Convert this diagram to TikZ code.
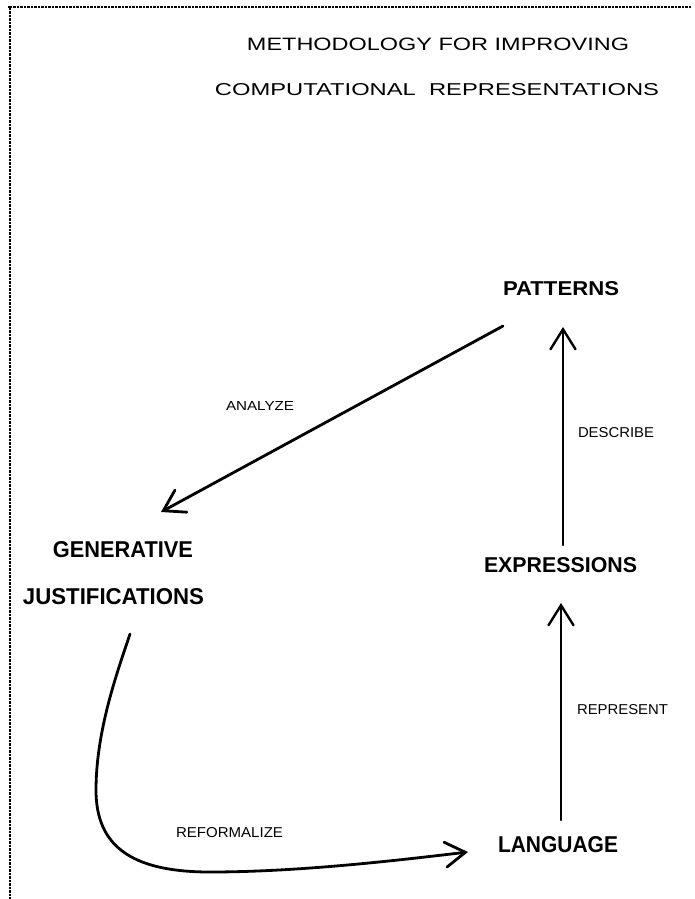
\documentclass[tikz,border=0pt]{standalone}
\usepackage{fontspec}
\setmainfont{Liberation Sans}
\usetikzlibrary{arrows.meta}
\newcommand{\fittext}[3]{\resizebox{#1}{#2}{#3}}
\begin{document}
\begin{tikzpicture}[x=1pt,y=-1pt,
  lbl/.style={inner sep=0pt, anchor=center},
  conn/.style={line width=2.8pt, line cap=round,
    -{Straight Barb[length=20pt,width=25pt,line cap=round]}},
  vconn/.style={conn, line width=2.4pt},
  frameline/.style={line width=1.4pt, dash pattern=on 2.5pt off 1pt}]
\fill[white] (0,0) rectangle (695,899);
\useasboundingbox (0,0) rectangle (695,899);
% frame
\coordinate (fl) at (8,7);
\coordinate (fr) at (691,7);
\coordinate (fb) at (10,899);
\draw[frameline] (fr) -- (fl) -- (10,7) -- (fb);
% title
\node[lbl] (t1) at (438,44.5) {\fittext{382pt}{12.5pt}{METHODOLOGY FOR IMPROVING}};
\node[lbl] (t2) at (437,89.5) {\fittext{444pt}{12pt}{COMPUTATIONAL\ \ REPRESENTATIONS}};
% main nodes
\node[lbl] (pat) at (561,289) {\fittext{116pt}{14pt}{\bfseries PATTERNS}};
\node[lbl] (gen) at (123,550) {\fittext{140pt}{16pt}{\bfseries GENERATIVE}};
\node[lbl] (jus) at (113.5,597) {\fittext{181pt}{16pt}{\bfseries JUSTIFICATIONS}};
\node[lbl] (exp) at (560.5,565.5) {\fittext{153pt}{15pt}{\bfseries EXPRESSIONS}};
\node[lbl] (lan) at (558,845) {\fittext{120pt}{16pt}{\bfseries LANGUAGE}};
% edge labels
\node[lbl] (lana) at (260,406) {\fittext{68pt}{9pt}{ANALYZE}};
\node[lbl] (ldes) at (616,433) {\fittext{76pt}{10pt}{DESCRIBE}};
\node[lbl] (lrep) at (622.5,710) {\fittext{91pt}{10pt}{REPRESENT}};
\node[lbl] (lref) at (229.5,833) {\fittext{107pt}{10pt}{REFORMALIZE}};
% connector end points
\coordinate (a0) at (503,326);
\coordinate (a1) at (161,512);
\coordinate (d0) at (563,545);
\coordinate (d1) at (563,327);
\coordinate (r0) at (561,820);
\coordinate (r1) at (561,603);
\coordinate (f0) at (130,634);
\coordinate (f1) at (468,852);
% connectors
\draw[conn] (a0) -- (a1);
\draw[vconn] (d0) -- (d1);
\draw[vconn] (r0) -- (r1);
\draw[conn] (f0) .. controls (118,670) and (96,730) .. (96,790)
  .. controls (96,845) and (130,872) .. (210,872)
  .. controls (300,872) and (400,860) .. (f1);
\end{tikzpicture}
\end{document}
